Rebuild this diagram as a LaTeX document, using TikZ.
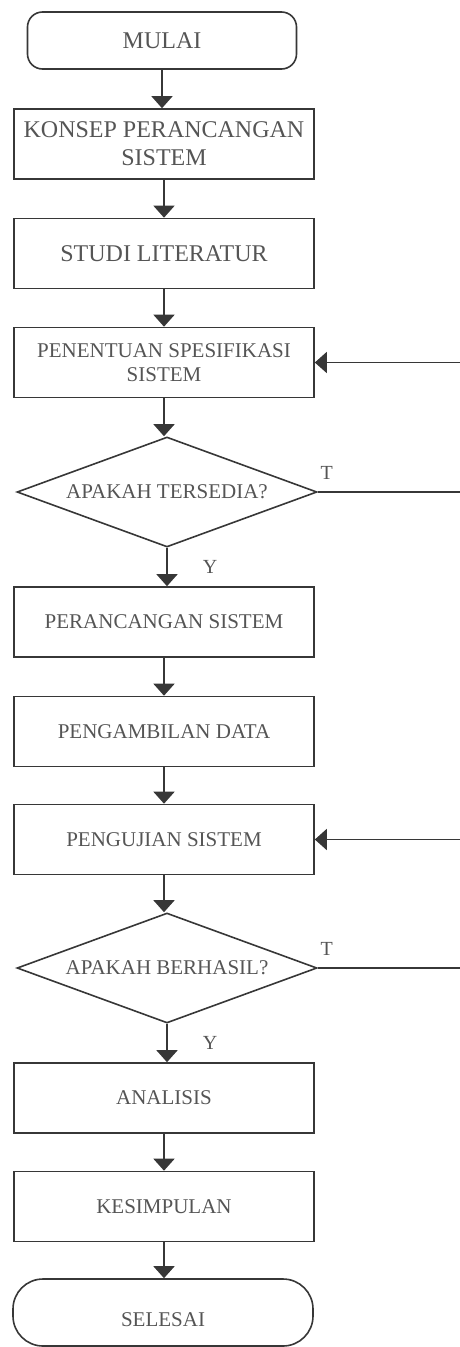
\documentclass[tikz,border=0pt]{standalone}
\usepackage{fontspec}
\setmainfont{Liberation Serif}
\usepackage{tikz}
\usetikzlibrary{arrows.meta,shapes.geometric}
\usepackage{xcolor}
\definecolor{fcline}{RGB}{55,55,55}
\definecolor{fctext}{RGB}{85,85,85}
\tikzstyle{proses} = [rectangle, draw=fcline, line width=1.6pt, minimum width=300pt, minimum height=70pt, inner sep=3pt, text=fctext, align=center, font=\fontsize{21}{24}\selectfont]
\tikzstyle{besar} = [font=\fontsize{24}{28}\selectfont]
\tikzstyle{terminal} = [proses, rounded corners=15pt]
\tikzstyle{keputusan} = [diamond, draw=fcline, line width=1.6pt, aspect=2.7, minimum width=300pt, minimum height=110pt, inner sep=0pt, text=fctext, font=\fontsize{21}{24}\selectfont]
\tikzstyle{ket} = [text=fctext, inner sep=0pt, font=\fontsize{20}{22}\selectfont]
\tikzstyle{arrow} = [line width=1.6pt, ->, >={Triangle[width=21pt,length=12pt]}, color=fcline]

\begin{document}
\begin{tikzpicture}[x=1pt, y=-1pt]
\useasboundingbox (0,0) rectangle (459,1347);
% mulai dan tahap awal
\node[terminal, besar, minimum width=269pt, minimum height=57pt] (mulai) at (162,40.5) {MULAI};
\node[proses, besar] (konsep) at (164,144) {KONSEP PERANCANGAN\\SISTEM};
\node[proses, besar] (studi) at (164,253.5) {STUDI LITERATUR};
\node[proses] (spesifikasi) at (164,362.5) {PENENTUAN SPESIFIKASI\\SISTEM};
% keputusan pertama
\node[keputusan] (tersedia) at (167,492) {APAKAH TERSEDIA?};
\node[proses] (rancang) at (164,622) {PERANCANGAN SISTEM};
\node[proses] (ambil) at (164,731.5) {PENGAMBILAN DATA};
\node[proses] (uji) at (164,839.5) {PENGUJIAN SISTEM};
% keputusan kedua
\node[keputusan] (berhasil) at (167,968) {APAKAH BERHASIL?};
\node[proses] (analisis) at (164,1098) {ANALISIS};
\node[proses] (simpul) at (164,1206.5) {KESIMPULAN};
\node[terminal, rounded corners=30pt, minimum height=67pt, text height=28pt, text depth=0pt] (selesai) at (163,1312.5) {SELESAI};

% alur utama
\foreach \a/\b in {mulai/konsep, konsep/studi, studi/spesifikasi, spesifikasi/tersedia, rancang/ambil, ambil/uji, uji/berhasil, analisis/simpul, simpul/selesai}
  \draw[arrow] (\a.south) -- (\a.south |- \b.north);
\draw[arrow] (tersedia.south) -- node[ket, right=35pt] {Y} (tersedia.south |- rancang.north);
\draw[arrow] (berhasil.south) -- node[ket, right=35pt] {Y} (berhasil.south |- analisis.north);

% umpan balik (T)
\draw[arrow] (tersedia.east) node[ket, anchor=south west, xshift=2pt, yshift=12pt] {T} -- ++(160,0) |- (spesifikasi.east);
\draw[arrow] (berhasil.east) node[ket, anchor=south west, xshift=2pt, yshift=12pt] {T} -- ++(160,0) |- (uji.east);
\end{tikzpicture}
\end{document}
